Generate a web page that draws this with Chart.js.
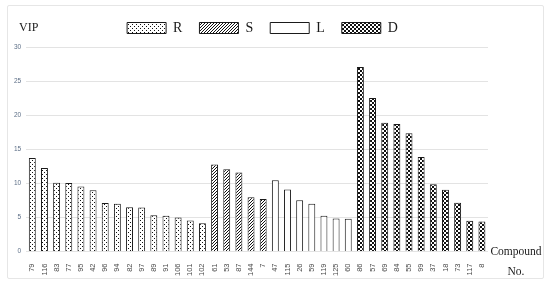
<!DOCTYPE html>
<html>
<head>
<meta charset="utf-8">
<script src="https://cdn.jsdelivr.net/npm/chart.js@4"></script>
<style>
  html, body { margin: 0; padding: 0; background: #fff; }
  #wrap { position: relative; width: 550px; height: 284px; overflow: hidden; }
  #frame { position: absolute; left: 7px; top: 5px; width: 535px; height: 272px; border: 1px solid #e6e6e6; border-radius: 2px; }
  #chart { position: absolute; left: 0; top: 0; }
  .lbl { position: absolute; font-family: "Liberation Serif", serif; color: #1a1a1a; }
</style>
</head>
<body>
<div id="wrap">
  <div id="frame"></div>
  <canvas id="chart" width="550" height="284"></canvas>
  <div class="lbl" style="left:19px; top:21px; font-size:12px; line-height:12px;">VIP</div>
  <div class="lbl" style="left:480px; top:242px; width:72px; text-align:center; font-size:11.5px; line-height:19.5px;">Compound<br>No.</div>
</div>
<script>
// ---------------------------------
// Data (VIP per compound, by group)
// ---------------------------------
const groupNames = ["R", "S", "L", "D"];

const rCompounds = ["79", "116", "83", "77", "95", "42", "96", "94", "82", "97", "89", "91", "106", "101", "102"];
const rValues = [13.7, 12.25, 10.1, 10.05, 9.55, 9.0, 7.1, 7.0, 6.5, 6.45, 5.3, 5.25, 5.0, 4.55, 4.15];

const sCompounds = ["61", "53", "87", "144", "7"];
const sValues = [12.75, 12.05, 11.6, 7.95, 7.7];

const lCompounds = ["47", "115", "26", "59", "119", "125", "60"];
const lValues = [10.45, 9.1, 7.5, 7.0, 5.25, 4.85, 4.8];

const dCompounds = ["86", "57", "69", "84", "55", "99", "37", "18", "73", "117", "8"];
const dValues = [27.05, 22.5, 18.9, 18.7, 17.35, 13.85, 9.85, 9.05, 7.15, 4.5, 4.4];

const yTicks = [0, 5, 10, 15, 20, 25, 30];

// -----------------------------
// Fill patterns for the bars
// -----------------------------
function makePattern(kind) {
  const c = document.createElement("canvas");
  const n = kind === "hatch" ? 3 : 4;
  c.width = n;
  c.height = n;
  const p = c.getContext("2d");
  p.fillStyle = "#fff";
  p.fillRect(0, 0, n, n);
  p.fillStyle = "#111";
  if (kind === "dots") {
    p.fillRect(0, 0, 1, 1);
    p.fillRect(2, 2, 1, 1);
  } else if (kind === "hatch") {
    for (let i = 0; i < n; i++) {
      p.fillRect(i, n - 1 - i, 1, 1);
    }
  } else if (kind === "checks") {
    p.fillRect(0, 0, n, n);
    p.fillStyle = "#fff";
    p.fillRect(0, 0, 2, 2);
    p.fillRect(2, 2, 2, 2);
  }
  return p.createPattern(c, "repeat");
}

const fills = [makePattern("dots"), makePattern("hatch"), "#ffffff", makePattern("checks")];

// one label axis, one dataset per group (nulls outside the group)
const groups = [
  [rCompounds, rValues],
  [sCompounds, sValues],
  [lCompounds, lValues],
  [dCompounds, dValues],
];
const labels = groups.flatMap((g) => g[0]);

let offset = 0;
const datasets = groups.map((g, gi) => {
  const data = labels.map(() => null);
  g[1].forEach((v, i) => { data[offset + i] = v; });
  offset += g[1].length;
  return {
    label: groupNames[gi],
    data: data,
    backgroundColor: fills[gi],
    borderColor: "#1a1a1a",
    borderWidth: 1,
    barPercentage: 0.57,
    categoryPercentage: 1.0,
  };
});

// nudge the legend a little right and up, like the original
const legendShift = {
  id: "legendShift",
  afterLayout(chart) {
    chart.legend.left += 14;
    chart.legend.right += 14;
    chart.legend.top -= 2;
  },
};

new Chart(document.getElementById("chart"), {
  type: "bar",
  data: { labels: labels, datasets: datasets },
  plugins: [legendShift],
  options: {
    responsive: false,
    animation: false,
    layout: { padding: { top: 6, left: 9, right: 62, bottom: 4 } },
    datasets: { bar: { grouped: false } },
    plugins: {
      tooltip: { enabled: false },
      legend: {
        display: true,
        position: "top",
        labels: {
          boxWidth: 39,
          boxHeight: 11,
          padding: 17,
          color: "#1a1a1a",
          font: { family: "Liberation Serif", size: 14 },
        },
      },
    },
    scales: {
      x: {
        grid: { display: false },
        border: { display: false },
        ticks: {
          autoSkip: false,
          minRotation: 90,
          maxRotation: 90,
          padding: 4,
          color: "#4a4a4a",
          font: { family: "Liberation Sans", size: 7.5 },
        },
      },
      y: {
        min: 0,
        max: 30,
        afterBuildTicks: (axis) => { axis.ticks = yTicks.map((v) => ({ value: v })); },
        grid: { color: "#e3e3e3", lineWidth: 1, drawTicks: false },
        border: { display: false },
        ticks: {
          padding: 5,
          color: "#5c6e86",
          font: { family: "Liberation Sans", size: 6.5 },
        },
      },
    },
  },
});
</script>
</body>
</html>
